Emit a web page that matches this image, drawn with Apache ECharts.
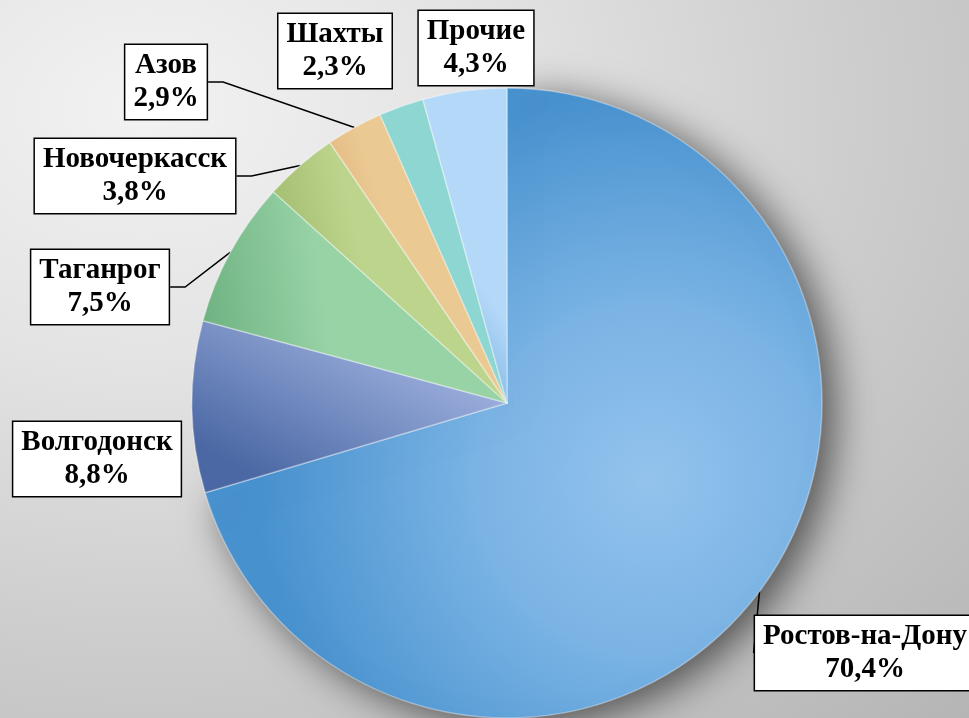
<!DOCTYPE html>
<html>
<head>
<meta charset="utf-8">
<script src="https://cdn.jsdelivr.net/npm/echarts@6/dist/echarts.min.js"></script>
<style>
  html, body { margin: 0; padding: 0; }
  #chart {
    width: 969px; height: 718px;
    background: radial-gradient(ellipse at 15% 15%, #f2f2f2 0%, #e3e3e3 30%, #cecece 60%, #b5b5b5 100%);
  }
</style>
</head>
<body>
<div id="chart"></div>
<script>
// data
var categories = ['Ростов-на-Дону', 'Волгодонск', 'Таганрог', 'Новочеркасск', 'Азов', 'Шахты', 'Прочие'];
var shares = [70.4, 8.8, 7.5, 3.8, 2.9, 2.3, 4.3];

// look
var lightColors = ['#93c3ed', '#9fb2df', '#98d3a6', '#bdd48c', '#ebc993', '#8dd6d2', '#b4d9f8'];
var darkColors  = ['#4892cf', '#4b68a4', '#6fb282', '#9db86b', '#d9ab6d', '#62bcb7', '#93c3ec'];
var labelCenters = [[865, 653], [97, 459], [100, 287], [135, 176], [166, 82], [335, 51], [476, 48]];
var showLeader = [true, false, true, true, true, false, false];
var leaderLen = [[8, 0], [15, 15], [15, 15], [15, 15], [15, 15], [15, 15], [15, 15]];

var chart = echarts.init(document.getElementById('chart'));

var pieData = categories.map(function (name, i) {
  var fill;
  if (i === 0) {
    fill = new echarts.graphic.RadialGradient(650, 480, 390, [
      { offset: 0, color: lightColors[0] },
      { offset: 0.45, color: '#7ab3e4' },
      { offset: 1, color: darkColors[0] }
    ], true);
  } else if (i === 1) {
    fill = new echarts.graphic.LinearGradient(0.6, 0, 0.3, 1, [
      { offset: 0, color: lightColors[i] },
      { offset: 1, color: darkColors[i] }
    ]);
  } else {
    fill = new echarts.graphic.LinearGradient(1, 0.4, 0, 0.6, [
      { offset: 0, color: lightColors[i] },
      { offset: 0.6, color: lightColors[i] },
      { offset: 1, color: darkColors[i] }
    ]);
  }
  var item = {
    name: name,
    value: shares[i],
    itemStyle: { color: fill },
    labelLine: { show: showLeader[i], length: leaderLen[i][0], length2: leaderLen[i][1] }
  };
  if (i === 0) {
    item.itemStyle.shadowBlur = 40;
    item.itemStyle.shadowOffsetX = 12;
    item.itemStyle.shadowOffsetY = 8;
    item.itemStyle.shadowColor = 'rgba(0,0,0,0.6)';
  }
  return item;
});

var option = {
  animation: false,
  series: [
    {
      type: 'pie',
      center: [507, 403],
      radius: 315,
      startAngle: 90,
      clockwise: true,
      avoidLabelOverlap: false,
      data: pieData,
      itemStyle: {
        borderColor: 'rgba(255,255,255,0.35)',
        borderWidth: 1.5
      },
      label: {
        show: true,
        position: 'outside',
        formatter: function (p) {
          return p.name + '\n' + p.value.toFixed(1).replace('.', ',') + '%';
        },
        fontFamily: '"Liberation Serif", "Times New Roman", serif',
        fontWeight: 'bold',
        fontSize: 29,
        lineHeight: 33,
        color: '#000',
        align: 'center',
        backgroundColor: '#fff',
        borderColor: '#000',
        borderWidth: 1.5,
        padding: [5, 8, 3, 8]
      },
      labelLine: {
        lineStyle: { color: '#000', width: 1.5 }
      },
      labelLayout: function (params) {
        var c = labelCenters[params.dataIndex];
        return {
          x: c[0],
          y: c[1],
          align: 'center',
          verticalAlign: 'middle'
        };
      }
    }
  ]
};

chart.setOption(option);
</script>
</body>
</html>
